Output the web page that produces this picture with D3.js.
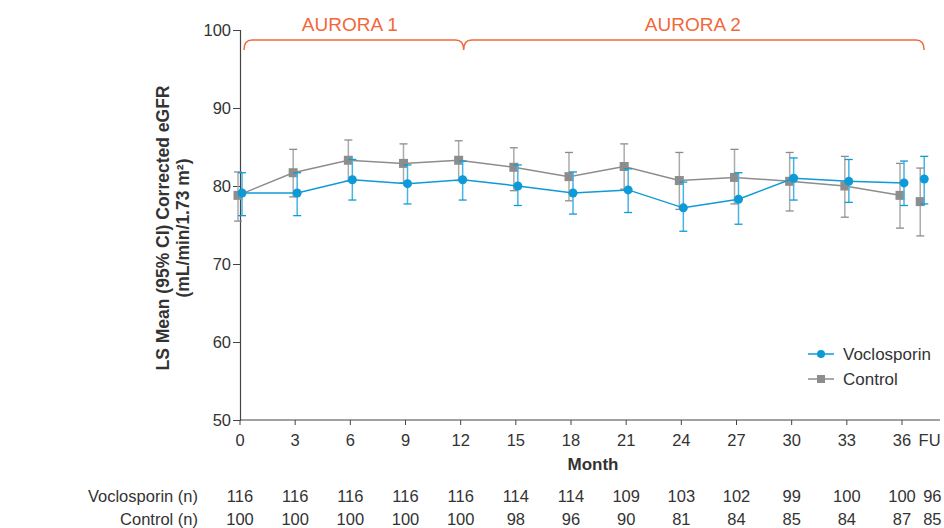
<!DOCTYPE html>
<html>
<head>
<meta charset="utf-8">
<script src="https://cdn.jsdelivr.net/npm/d3@7"></script>
<style>
  body { margin: 0; background: #fff; }
  svg { display: block; font-family: "Liberation Sans", Arial, sans-serif; }
</style>
</head>
<body>
<div id="chart"></div>
<script>
// visit months, last one is the follow-up visit
const months = [0, 3, 6, 9, 12, 15, 18, 21, 24, 27, 30, 33, 36, "FU"];

const vocMean = [79.1, 79.1, 80.8, 80.3, 80.8, 80.0, 79.1, 79.5, 77.2, 78.3, 81.0, 80.6, 80.4, 80.9];
const vocLow = [76.2, 76.2, 78.2, 77.7, 78.2, 77.5, 76.4, 76.6, 74.2, 75.1, 78.2, 77.9, 77.5, 77.7];
const vocHigh = [81.7, 81.7, 83.4, 82.7, 83.2, 82.7, 81.8, 82.2, 80.5, 81.7, 83.6, 83.4, 83.2, 83.8];

const ctlMean = [78.8, 81.7, 83.3, 82.9, 83.3, 82.4, 81.2, 82.5, 80.7, 81.1, 80.6, 80.0, 78.8, 78.0];
const ctlLow = [75.5, 78.6, 80.6, 80.4, 80.7, 79.4, 78.1, 79.6, 77.0, 77.7, 76.8, 76.0, 74.6, 73.6];
const ctlHigh = [81.8, 84.7, 85.9, 85.4, 85.8, 84.9, 84.3, 85.4, 84.3, 84.7, 84.3, 83.8, 82.9, 82.3];

const vocN = [116, 116, 116, 116, 116, 114, 114, 109, 103, 102, 99, 100, 100, 96];
const ctlN = [100, 100, 100, 100, 100, 98, 96, 90, 81, 84, 85, 84, 87, 85];

const yTicks = [50, 60, 70, 80, 90, 100];
const studies = ["AURORA 1", "AURORA 2"];

const width = 944;
const height = 528;
const blue = "#0e9ad7";
const blueBar = "#46b4e4";
const grey = "#8d8d8d";
const greyBar = "#ababab";
const orange = "#f2683a";
const textColor = "#333";
const axisColor = "#444";

const svg = d3
  .select("#chart")
  .append("svg")
  .attr("width", width)
  .attr("height", height);

const x = d3.scaleLinear().domain([0, 36]).range([240, 902]);
const y = d3.scaleLinear().domain([50, 100]).range([420, 30]);

// FU sits a little past month 36, its label a little further
const xm = (m) => (m === "FU" ? x(37.1) : x(m));
const xLabel = (m) => (m === "FU" ? x(37.5) : x(m));

// y axis
const yAxis = svg
  .append("g")
  .attr("transform", `translate(${x(0)},0)`)
  .call(d3.axisLeft(y).tickValues(yTicks).tickSize(7).tickPadding(2));
yAxis.select(".domain").attr("stroke", axisColor).attr("stroke-width", 1.2);
yAxis.selectAll(".tick line").attr("stroke", axisColor);
yAxis
  .selectAll(".tick text")
  .attr("font-size", "16.5px")
  .attr("fill", textColor)
  .attr("font-family", "Liberation Sans, Arial, sans-serif");

// x axis
svg
  .append("line")
  .attr("x1", x(0))
  .attr("x2", 940)
  .attr("y1", y(50))
  .attr("y2", y(50))
  .attr("stroke", axisColor)
  .attr("stroke-width", 1.2);

const numMonths = months.filter((m) => m !== "FU");
svg
  .selectAll(".xtick")
  .data(numMonths)
  .join("line")
  .attr("class", "xtick")
  .attr("x1", (d) => x(d))
  .attr("x2", (d) => x(d))
  .attr("y1", y(50))
  .attr("y2", y(50) + 5)
  .attr("stroke", axisColor);

svg
  .selectAll(".xlabel")
  .data(months)
  .join("text")
  .attr("class", "xlabel")
  .attr("x", (d) => xLabel(d))
  .attr("y", 446)
  .attr("text-anchor", "middle")
  .attr("font-size", "16.5px")
  .attr("fill", textColor)
  .text((d) => d);

svg
  .append("text")
  .attr("x", 593)
  .attr("y", 470)
  .attr("text-anchor", "middle")
  .attr("font-size", "17px")
  .attr("font-weight", "bold")
  .attr("fill", textColor)
  .text("Month");

// y axis title
const yTitle = svg
  .append("text")
  .attr("transform", "rotate(-90)")
  .attr("text-anchor", "middle")
  .attr("font-size", "17.5px")
  .attr("font-weight", "bold")
  .attr("fill", textColor);
yTitle
  .append("tspan")
  .attr("x", -228)
  .attr("y", 169)
  .text("LS Mean (95% CI) Corrected eGFR");
yTitle
  .append("tspan")
  .attr("x", -228)
  .attr("y", 189)
  .text("(mL/min/1.73 m²)");

// study brackets on top
const bx0 = x(0) + 4;
const bxMid = x(12) + 3;
const bx1 = x(37.2);
const by = 40;
const r = 8;
const bracket = d3.path();
bracket.moveTo(bx0, by + 10);
bracket.quadraticCurveTo(bx0, by, bx0 + r, by);
bracket.lineTo(bxMid - r, by);
bracket.quadraticCurveTo(bxMid, by, bxMid, by + 10);
bracket.quadraticCurveTo(bxMid, by, bxMid + r, by);
bracket.lineTo(bx1 - r, by);
bracket.quadraticCurveTo(bx1, by, bx1, by + 10);
svg
  .append("path")
  .attr("d", bracket.toString())
  .attr("fill", "none")
  .attr("stroke", orange)
  .attr("stroke-width", 1.5);

svg
  .selectAll(".study")
  .data(studies)
  .join("text")
  .attr("class", "study")
  .attr("x", (d, i) => (i === 0 ? (bx0 + bxMid) / 2 - 4 : (bxMid + bx1) / 2 - 1))
  .attr("y", 31)
  .attr("text-anchor", "middle")
  .attr("font-size", "19px")
  .attr("fill", orange)
  .text((d) => d);

// series
const series = [
  { name: "Control", mean: ctlMean, low: ctlLow, high: ctlHigh, color: grey, bar: greyBar, dx: -2, shape: "square" },
  { name: "Voclosporin", mean: vocMean, low: vocLow, high: vocHigh, color: blue, bar: blueBar, dx: 2, shape: "circle" },
];

series.forEach((s) => {
  const pts = months.map((m, i) => ({
    m: m,
    px: xm(m) + s.dx,
    mean: s.mean[i],
    low: s.low[i],
    high: s.high[i],
  }));
  const g = svg.append("g");

  // error bars
  pts.forEach((p) => {
    g.append("line")
      .attr("x1", p.px)
      .attr("x2", p.px)
      .attr("y1", y(p.low))
      .attr("y2", y(p.high))
      .attr("stroke", s.bar)
      .attr("stroke-width", 1.5);
    [p.low, p.high].forEach((v) => {
      g.append("line")
        .attr("x1", p.px - 4)
        .attr("x2", p.px + 4)
        .attr("y1", y(v))
        .attr("y2", y(v))
        .attr("stroke", s.color)
        .attr("stroke-width", 1.3);
    });
  });

  // line stops at month 36, FU stands alone
  const line = d3
    .line()
    .x((p) => p.px)
    .y((p) => y(p.mean));
  g.append("path")
    .datum(pts.filter((p) => p.m !== "FU"))
    .attr("d", line)
    .attr("fill", "none")
    .attr("stroke", s.color)
    .attr("stroke-width", 1.5);

  pts.forEach((p) => {
    if (s.shape === "circle") {
      g.append("circle")
        .attr("cx", p.px)
        .attr("cy", y(p.mean))
        .attr("r", 4.5)
        .attr("fill", s.color);
    } else {
      g.append("rect")
        .attr("x", p.px - 4.5)
        .attr("y", y(p.mean) - 4.5)
        .attr("width", 9)
        .attr("height", 9)
        .attr("fill", s.color);
    }
  });
});

// legend
const legendItems = [
  { name: "Voclosporin", color: blue, shape: "circle" },
  { name: "Control", color: grey, shape: "square" },
];
legendItems.forEach((d, i) => {
  const ly = 354 + i * 25;
  svg
    .append("line")
    .attr("x1", 808)
    .attr("x2", 834)
    .attr("y1", ly)
    .attr("y2", ly)
    .attr("stroke", d.color)
    .attr("stroke-width", 1.5);
  if (d.shape === "circle") {
    svg.append("circle").attr("cx", 821).attr("cy", ly).attr("r", 4).attr("fill", d.color);
  } else {
    svg
      .append("rect")
      .attr("x", 817)
      .attr("y", ly - 4)
      .attr("width", 8)
      .attr("height", 8)
      .attr("fill", d.color);
  }
  svg
    .append("text")
    .attr("x", 843)
    .attr("y", ly + 6)
    .attr("font-size", "17px")
    .attr("fill", textColor)
    .text(d.name);
});

// patient counts under the axis
const countRows = [
  { label: "Voclosporin (n)", values: vocN, y: 502 },
  { label: "Control (n)", values: ctlN, y: 525 },
];
countRows.forEach((row) => {
  svg
    .append("text")
    .attr("x", 198)
    .attr("y", row.y)
    .attr("text-anchor", "end")
    .attr("font-size", "16.5px")
    .attr("fill", textColor)
    .text(row.label);
  svg
    .selectAll(null)
    .data(row.values)
    .join("text")
    .attr("x", (d, i) => (months[i] === "FU" ? x(37.65) : x(months[i])))
    .attr("y", row.y)
    .attr("text-anchor", "middle")
    .attr("font-size", "16.5px")
    .attr("fill", textColor)
    .text((d) => d);
});
</script>
</body>
</html>
